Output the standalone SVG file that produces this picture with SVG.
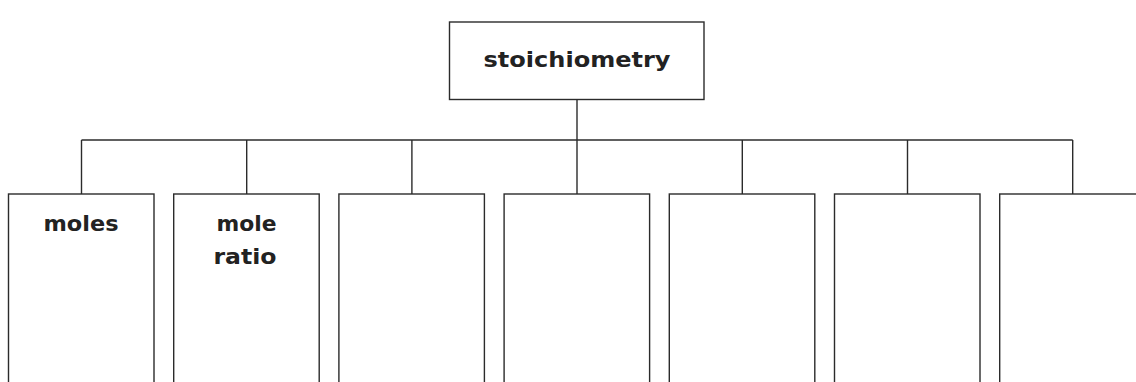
<svg xmlns="http://www.w3.org/2000/svg" width="1136" height="382" viewBox="0 0 1136 382">
  <style>
    .box { fill: #ffffff; stroke: #2b2b2b; stroke-width: 1.4; }
    .wire { fill: none; stroke: #2b2b2b; stroke-width: 1.4; }
    .label { font-family: "DejaVu Sans", "Liberation Sans", sans-serif; font-weight: bold; font-size: 21px; fill: #222222; text-anchor: middle; }
    .root { font-size: 22px; }
  </style>
  <rect width="1136" height="382" fill="#ffffff"/>

  <!-- tree connectors -->
  <g id="connectors" class="wire">
    <line x1="577" y1="99.5" x2="577" y2="194"/>
    <line x1="81.5" y1="140" x2="1072.7" y2="140"/>
    <line x1="81.5" y1="140" x2="81.5" y2="194"/>
    <line x1="246.7" y1="140" x2="246.7" y2="194"/>
    <line x1="411.9" y1="140" x2="411.9" y2="194"/>
    <line x1="742.3" y1="140" x2="742.3" y2="194"/>
    <line x1="907.5" y1="140" x2="907.5" y2="194"/>
    <line x1="1072.7" y1="140" x2="1072.7" y2="194"/>
  </g>

  <!-- root -->
  <g id="node-stoichiometry">
    <rect class="box" x="449.5" y="22" width="254.5" height="77.5"/>
    <text class="label root" x="577" y="67" textLength="187" lengthAdjust="spacingAndGlyphs">stoichiometry</text>
  </g>

  <!-- children -->
  <g id="node-moles">
    <rect class="box" x="8.5" y="194" width="145.5" height="200"/>
    <text class="label" x="81" y="231" textLength="75" lengthAdjust="spacingAndGlyphs">moles</text>
  </g>
  <g id="node-mole-ratio">
    <rect class="box" x="173.7" y="194" width="145.5" height="200"/>
    <text class="label" x="246.5" y="231" textLength="60" lengthAdjust="spacingAndGlyphs">mole</text>
    <text class="label" x="245" y="264" textLength="63" lengthAdjust="spacingAndGlyphs">ratio</text>
  </g>
  <g id="node-3">
    <rect class="box" x="338.9" y="194" width="145.5" height="200"/>
  </g>
  <g id="node-4">
    <rect class="box" x="504.1" y="194" width="145.5" height="200"/>
  </g>
  <g id="node-5">
    <rect class="box" x="669.3" y="194" width="145.5" height="200"/>
  </g>
  <g id="node-6">
    <rect class="box" x="834.5" y="194" width="145.5" height="200"/>
  </g>
  <g id="node-7">
    <rect class="box" x="999.7" y="194" width="145.5" height="200"/>
  </g>
</svg>
